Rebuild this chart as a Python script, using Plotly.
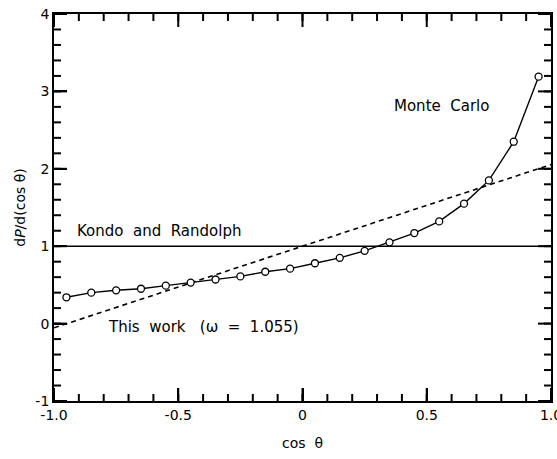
import plotly.graph_objects as go

# Monte Carlo data (bin centers)
cos_mc = [-0.95, -0.85, -0.75, -0.65, -0.55, -0.45, -0.35, -0.25, -0.15, -0.05,
          0.05, 0.15, 0.25, 0.35, 0.45, 0.55, 0.65, 0.75, 0.85, 0.95]
p_mc = [0.34, 0.40, 0.43, 0.45, 0.49, 0.53, 0.57, 0.61, 0.67, 0.71,
        0.78, 0.85, 0.94, 1.05, 1.17, 1.32, 1.55, 1.85, 2.35, 3.19]

# Kondo and Randolph (isotropic)
cos_kr = [-1.0, 1.0]
p_kr = [1.0, 1.0]

# This work: linear anisotropic, omega = 1.055
cos_tw = [-1.0, 1.0]
p_tw = [-0.055, 2.055]

# Tick labels
x_major = [-1.0, -0.5, 0.0, 0.5, 1.0]
x_major_text = ["-1.0", "-0.5", "0", "0.5", "1.0"]
y_major = [-1, 0, 1, 2, 3, 4]
y_major_text = ["-1", "0", "1", "2", "3", "4"]
x_minor = [round(-1.0 + 0.1 * i, 1) for i in range(21)]
y_minor = [round(-1.0 + 0.2 * i, 1) for i in range(26)]

X_RANGE = [-1.0, 1.0]
Y_RANGE = [-1.0, 4.0]
FONT = "DejaVu Sans"

W, H = 557, 459
M = dict(l=54, r=6, t=14, b=58)
PW = W - M["l"] - M["r"]
PH = H - M["t"] - M["b"]
MAJOR_LEN, MINOR_LEN = 13, 7


def xfrac(v):
    return (v - X_RANGE[0]) / (X_RANGE[1] - X_RANGE[0])


def yfrac(v):
    return (v - Y_RANGE[0]) / (Y_RANGE[1] - Y_RANGE[0])


fig = go.Figure()
fig.add_trace(go.Scatter(x=cos_kr, y=p_kr, mode="lines",
                         line=dict(color="black", width=1.6), showlegend=False))
fig.add_trace(go.Scatter(x=cos_tw, y=p_tw, mode="lines",
                         line=dict(color="black", width=1.6, dash="5px,4px"), showlegend=False))
fig.add_trace(go.Scatter(x=cos_mc, y=p_mc, mode="lines+markers",
                         line=dict(color="black", width=1.4),
                         marker=dict(symbol="circle", size=7, color="white",
                                     line=dict(color="black", width=1.3)),
                         showlegend=False))

ann_font = dict(family=FONT, size=15, color="black")
fig.add_annotation(x=-0.916, y=1.20, xref="x", yref="y", xanchor="left", yanchor="middle",
                   text="Kondo&nbsp;&nbsp;and&nbsp;&nbsp;Randolph", showarrow=False, font=ann_font)
fig.add_annotation(x=-0.79, y=-0.05, xref="x", yref="y", xanchor="left", yanchor="middle",
                   text="This&nbsp;&nbsp;work&nbsp;&nbsp;&nbsp;(ω&nbsp;&nbsp;=&nbsp;&nbsp;1.055)", showarrow=False, font=ann_font)
fig.add_annotation(x=0.361, y=2.81, xref="x", yref="y", xanchor="left", yanchor="middle",
                   text="Monte&nbsp;&nbsp;Carlo", showarrow=False, font=ann_font)

# Inward ticks on all four sides, placed from the tick value lists
tick_line = dict(color="black", width=2)
for vals, length in ((x_minor, MINOR_LEN), (x_major, MAJOR_LEN)):
    f = length / PH
    for v in vals:
        px = xfrac(v)
        fig.add_shape(type="line", xref="paper", yref="paper", x0=px, x1=px, y0=0, y1=f,
                      line=tick_line, layer="above")
        fig.add_shape(type="line", xref="paper", yref="paper", x0=px, x1=px, y0=1 - f, y1=1,
                      line=tick_line, layer="above")
for vals, length in ((y_minor, MINOR_LEN), (y_major, MAJOR_LEN)):
    f = length / PW
    for v in vals:
        py = yfrac(v)
        fig.add_shape(type="line", xref="paper", yref="paper", x0=0, x1=f, y0=py, y1=py,
                      line=tick_line, layer="above")
        fig.add_shape(type="line", xref="paper", yref="paper", x0=1 - f, x1=1, y0=py, y1=py,
                      line=tick_line, layer="above")

line_common = dict(showgrid=False, zeroline=False, showline=True, linecolor="black",
                   linewidth=1.8, mirror=True, ticks="inside", ticklen=MAJOR_LEN,
                   tickwidth=2, tickcolor="black", automargin=False)
tickfont = dict(family=FONT, size=14, color="black")

fig.update_layout(
    xaxis=dict(range=X_RANGE, tickmode="array", tickvals=x_major, ticktext=x_major_text,
               tickfont=tickfont, ticklabeloverflow="allow",
               title=dict(text="cos&nbsp;&nbsp;θ", font=dict(family=FONT, size=14, color="black"),
                          standoff=16),
               **line_common),
    yaxis=dict(range=Y_RANGE, tickmode="array", tickvals=y_major, ticktext=y_major_text,
               tickfont=tickfont, ticklabeloverflow="allow",
               title=dict(text="d<i>P</i>/d(cos θ)", font=dict(family=FONT, size=14, color="black"),
                          standoff=6),
               **line_common),
    width=W, height=H, margin=M,
    paper_bgcolor="white", plot_bgcolor="white",
    font=dict(family=FONT, size=14, color="black"),
)

fig.write_html("out.html")
